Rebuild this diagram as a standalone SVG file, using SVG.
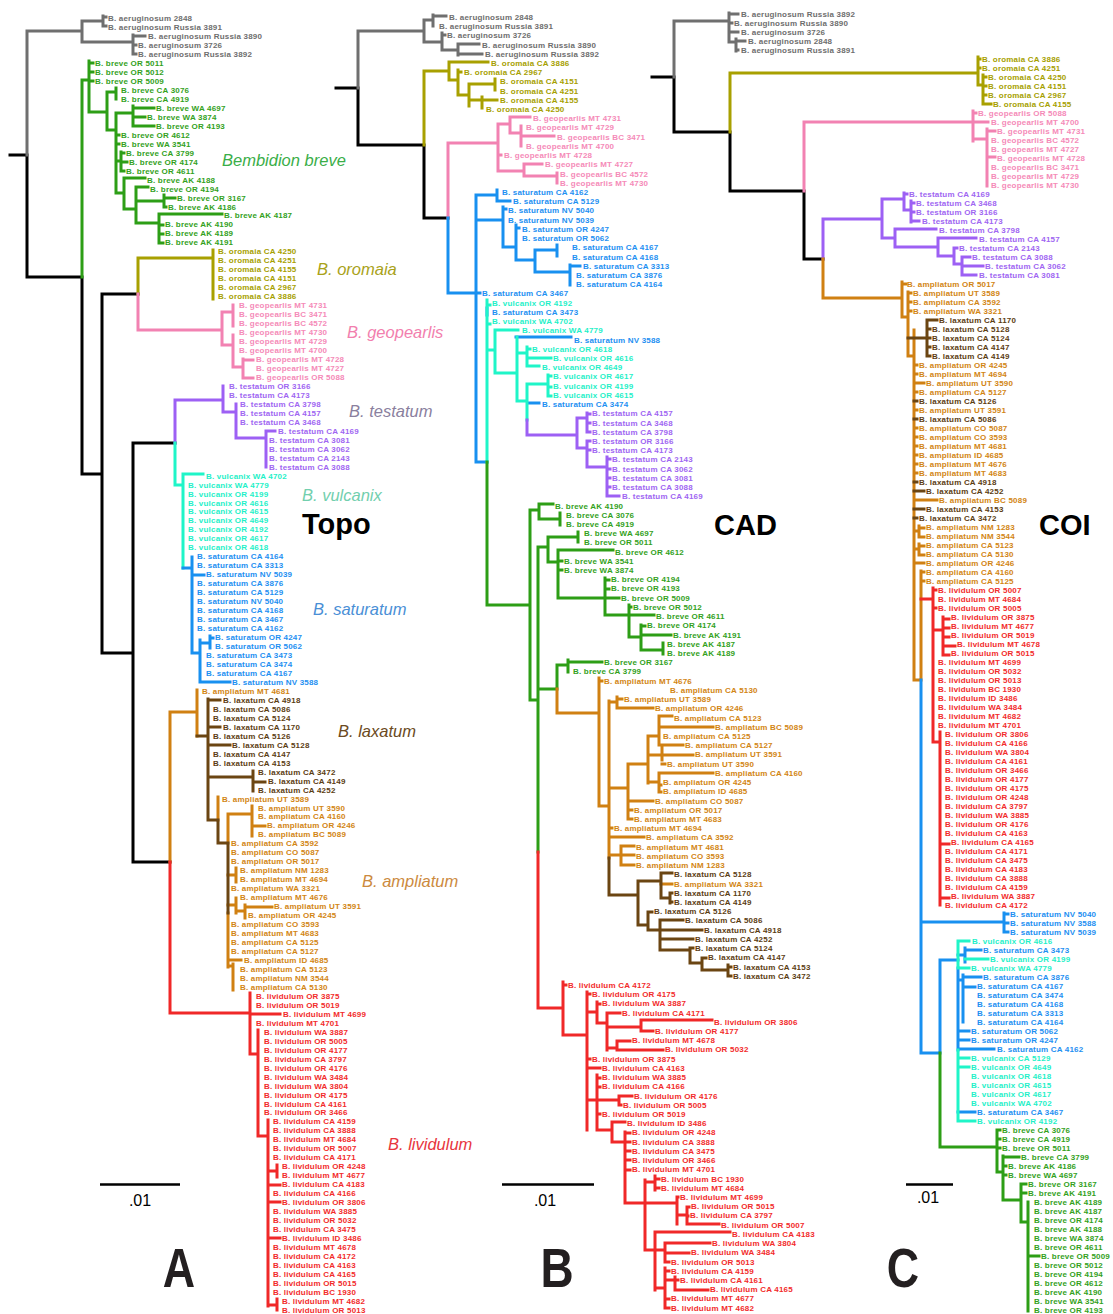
<svg xmlns="http://www.w3.org/2000/svg" width="1113" height="1314" viewBox="0 0 1113 1314">
<style>
.t{font-family:"Liberation Sans",Arial,sans-serif;font-weight:700;font-size:8px;letter-spacing:.2px}
.gy{fill:#6e6e6e}.gr{fill:#33a11c}.ol{fill:#a6a000}.pk{fill:#f58ab8}.pu{fill:#a066f2}.cy{fill:#1ff0c8}.bl{fill:#1d8ff2}.bn{fill:#5c3d12}.or{fill:#d28512}.rd{fill:#f22b2b}
.e{fill:none;stroke-width:3;stroke-linecap:square;stroke-linejoin:miter}
.k{stroke:#000}.sgy{stroke:#6f6f6f}.sgr{stroke:#2d9e16}.sol{stroke:#a8a000}.spk{stroke:#f282b2}.spu{stroke:#9d60f4}.scy{stroke:#1ff5c8}.sbl{stroke:#1890f0}.sbn{stroke:#6b4512}.sor{stroke:#d08012}.srd{stroke:#f02828}
.c{font-family:"Liberation Sans",Arial,sans-serif;font-style:italic;font-size:16.5px}
.p{font-family:"Liberation Sans",Arial,sans-serif;font-weight:700;font-size:29px;fill:#000}
.L{font-family:"Liberation Sans",Arial,sans-serif;font-weight:700;font-size:56px;fill:#231f20;text-anchor:middle}
.s{font-family:"Liberation Sans",Arial,sans-serif;font-size:16px;fill:#000;text-anchor:middle}
</style>
<rect width="1113" height="1314" fill="#fff"/>

<!-- branch lines -->
<g id="connectors" class="e">
  <g id="tree-topo">
    <path class="k" d="M10 155H27V277H82V474H102M102 294H138M102 294V653H133M133 443V862M133 443H175M133 862H170"/>
    <path class="sgy" d="M27 155V31H82M82 21V42M82 21H103M103 16V26M103 17H106M103 26H106M82 42H133M133 35V54M133 36H145M133 45H136M133 54H136"/>
    <path class="sgr" d="M82 277V80H89M89 61V112H107M89 63H93M89 72H93M89 81H93M107 92V130M107 92H116M116 88V99M107 130H116M116 113V193M116 113H133M133 106V126M133 108H154M133 117H145M133 126H154M116 135H119M116 144H119M116 161H121M121 152V171M121 153H124M121 162H127M121 171H124M116 193H124M124 178V209M124 178H145M124 209H136M136 187V223M136 187H148M136 201H164M164 195V207M164 198H175M164 207H166M136 223H159M159 214V243M159 214H222M159 225H163M159 234H163M159 243H163"/>
    <path class="sol" d="M138 294V258H213M213 250V299"/>
    <path class="spk" d="M138 294V330H222M222 312V345M222 312H233M233 305V326M222 345H233M233 335V367M233 367H243M243 359V378M243 360H253M243 378H253"/>
    <path class="spu" d="M175 443V400H223M223 386V412H236M236 404V438H266M266 431V467M266 431H275"/>
    <path class="scy" d="M175 443V485H183M183 474V568M183 474H203"/>
    <path class="sbl" d="M183 568H192M192 557V653H200M192 575H204M200 640V682H230M200 643H210M210 636V648M210 638H213"/>
    <path class="sor" d="M170 862V712H197M197 690V736M218 797V820M228 814V843M228 913V967M228 814H252M252 806V836M252 826H265M228 875H236M236 868V882M228 905H236M236 898V913M236 911H245M245 905V918M245 907H272M228 960H241M228 966H233M233 964V990"/>
    <path class="sbn" d="M197 736H208M208 699V820M208 700H220M208 727H220M208 745H230M208 777H253M253 771V791M253 782H265M208 820H218M218 820V843M218 843H228M228 843V913"/>
    <path class="srd" d="M170 862V1013H250M250 993V1054M250 1014H280M250 1054H258M258 1030V1136H268M268 1120V1306M268 1171H277M277 1165V1177M268 1185H280M268 1202H280M268 1238H280M268 1305H277M277 1299V1310"/>
  </g>
  <g id="tree-cad">
    <path class="k" d="M336 88H358V145H424V218H448"/>
    <path class="sgy" d="M358 88V31H424M424 20V42M424 20H433M433 15V26M433 16H446M424 42H442M442 33V50M442 35H445M442 50H458M458 44V55M458 44H479M458 54H482"/>
    <path class="sol" d="M424 145V71H449M449 62V80M449 62H488M449 80H458M458 70V95M458 72H461M458 95H469M469 84V106M469 84H495M495 79V90M469 100H482M482 97V108M482 100H497"/>
    <path class="spk" d="M448 218V143H498M498 124V171M498 124H510M510 117V133M510 117H530M510 133H521M521 126V146M521 136H554M498 155H501M498 171H524M524 164V176M524 164H542M524 176H557M557 173V183"/>
    <path class="sbl" d="M448 218V293H476M476 195V462H487M476 195H497M497 190V201M497 201H510M476 220H503M503 207V247M503 209H506M503 247H516M516 225V260M516 228H519M516 260H535M535 250V272M535 250H557M557 245V256M535 272H570M570 265V285M570 266H580M476 293H480M487 308V315M516 337H571M528 403H539"/>
    <path class="scy" d="M487 462V300M487 305H490M487 324H490M487 350H495M495 330V373M495 330H518M495 373H517M517 337V401H527M517 353H527M527 347V366M527 349H530M527 358H551M527 366H539M527 384V420M527 384H548M548 375V396M548 376H551M548 387H551M548 396H551"/>
    <path class="spu" d="M527 420V435H577M577 418V448M577 418H587M587 413V432M587 414H590M587 423H590M587 432H590M577 448H587M587 441V467H607M587 441H590M587 450H590M607 457V496H619M607 459H610M607 469H610M607 478H610M607 487H610"/>
    <path class="sgr" d="M487 462V605H530M530 510V700H538M530 510H539M539 504V519M539 504H553M539 519H560M560 513V525M538 547V852M538 547H548M548 537V562M548 537H578M578 532V542M548 562H558M558 550V598M558 550H613M558 561H562M558 570H562M558 598H605M605 578V615M605 580H609M605 589H609M605 598H619M605 615H629M629 605V637M629 607H631M629 615H654M629 637H641M641 625V650M641 626H645M641 635H671M641 650H663M663 643V654M538 689H557M557 665V689M557 665H568M568 660V672M568 662H602"/>
    <path class="sor" d="M557 689V713H599M599 678V806M599 681H602M599 806H609M609 701V858M609 702H617M617 697V708M617 699H622M617 708H653M609 788H628M628 764V819M628 764H648M648 736V783M648 736H659M659 716V745M659 716H672M659 727H713M659 745H683M648 755H662M662 748V760M662 755H693M662 764H665M648 782H659M659 773V792M659 773H713M659 785H661M659 792H661M628 801H653M628 810H632M628 819H632M609 828H612M609 837H644M609 855H621M621 846V865M621 846H634M621 855H634M621 865H634M661 884H672"/>
    <path class="sbn" d="M609 858V895H638M638 881V925M638 881H661M661 873V898M661 873H672M661 898H670M670 893V903M670 893H672M670 902H672M638 925H648M648 912V930M648 912H652M648 930H660M660 920V950M660 920H683M660 930H702M660 939H693M660 950H690M690 948V963M690 948H693M690 963H702M702 958V970M702 958H706M702 970H728M728 965V976M728 967H731M728 976H731"/>
    <path class="srd" d="M538 852V1008H563M563 982V1035H587M563 985H566M587 992V1130M587 994H590M587 1012H597M597 1002V1023H607M597 1004H600M607 1013V1050M607 1013H620M607 1027H641M641 1020V1031M641 1020H712M641 1031H653M607 1048H617M617 1041V1050M617 1041H630M617 1050H663M587 1059H590M587 1068H600M587 1100H597M597 1075V1130M597 1078H600M597 1087H600M597 1100H619M619 1096V1105M619 1096H632M619 1105H621M597 1114H600M597 1130H612M612 1122V1142M612 1122H625M612 1142H625M625 1132V1203M625 1133H630M625 1142H630M625 1151H630M625 1160H630M625 1170H630M625 1203H645M645 1180V1250M645 1182H655M655 1176V1190M655 1179H659M655 1188H659M645 1203H677M677 1197V1224M677 1197H678M677 1215H687M687 1207V1224M687 1207H689M687 1216H688M687 1224H719M645 1250H655M655 1232V1290M655 1232H730M655 1250H665M665 1243V1262M665 1243H710M665 1253H689M665 1262H669M655 1288H665M665 1268V1308M665 1271H669M665 1280H675M675 1277V1290M675 1280H678M675 1290H708M665 1299H669M665 1308H669"/>
  </g>
  <g id="tree-coi">
    <path class="k" d="M652 77H674V132H730V191H804V259H823"/>
    <path class="sgy" d="M674 77V21H729M729 13V42M729 14H738M729 23H732M729 32H738M729 42H736M736 39V51M736 41H745M736 50H738"/>
    <path class="sol" d="M730 132V73H978M978 57V85M978 59H980M978 68H980M978 85H983M983 75V104M983 77H986M983 86H986M983 95H986M983 104H991"/>
    <path class="spk" d="M804 191V122H973M973 111V141M973 113H976M973 122H988M973 139H987M987 129V186M987 131H995M987 157H995"/>
    <path class="spu" d="M823 259V219H882M882 199V238M882 199H904M904 193V210M904 194H907M904 210H911M911 201V222M911 203H914M911 212H914M911 221H919M882 238H895M895 229V247M895 229H936M895 247H938M938 238V256M938 238H976M938 256H954M954 248V264M954 248H957M954 264H962M962 257V275M962 257H970M962 266H983M962 275H976"/>
    <path class="sor" d="M823 259V298H902M902 282V317M902 284H906M902 317H908M908 292V356M908 293H911M908 302H911M908 311H911M908 356H914M914 330V680H921M914 365H917M914 374H917M914 383H924M914 392H917M914 410H917M914 428H917M914 437H917M914 446H917M914 455H917M914 464H917M914 473H917M914 500H937M914 531H919M919 526V537M919 528H924M919 537H924M914 549H919M919 544V555M919 546H924M919 555H924M914 563H924M921 571V680M921 572H924M921 581H924"/>
    <path class="sbn" d="M908 338H927M927 320V356M927 320H937M927 329H930M927 338H930M927 347H930M927 356H930M914 401H917M914 419H917M914 482H917M914 491H924M914 509H924M914 518H917"/>
    <path class="srd" d="M921 599H933M933 588V742M933 590H936M933 608H936M933 630H943M943 617V653M943 619H949M943 628H949M943 637H949M943 646H955M943 655H949M933 742H940M940 732V905M940 844H949M940 898H949"/>
    <path class="sbl" d="M921 680V1053H940M921 922H1004M1004 913V932M1004 914H1008M1004 923H1008M1004 932H1008M940 960V1053M940 960H958M958 968V1050M958 955H965M965 948V962M965 950H981M958 980H963M963 975V1022M963 977H981M963 987H975M958 1031H969M958 1040H969M958 1049H994M958 1112H975"/>
    <path class="scy" d="M958 941V968M958 941H969M965 959H988M958 968H969M958 1050V1121M958 1058H969M958 1067H969M958 1121H975"/>
    <path class="sgr" d="M940 1053V1147H997M997 1130V1172M997 1130H1000M997 1139H1000M997 1148H1000M997 1172H1003M1003 1156V1200M1003 1157H1019M1003 1166H1006M1003 1175H1006M1003 1200H1021M1021 1184V1222M1021 1184H1026M1021 1193H1026M1021 1222H1028M1028 1202V1311M1028 1256H1039"/>
  </g>
</g>

<!-- Topo tree: tip labels -->
<g id="topo-aeruginosum" class="t gy" xml:space="preserve">
<text x="108" y="21.1">B. aeruginosum 2848</text><text x="108" y="30.1">B. aeruginosum Russia 3891</text><text x="148" y="39">B. aeruginosum Russia 3890</text><text x="138" y="48">B. aeruginosum 3726</text><text x="138" y="57">B. aeruginosum Russia 3892</text>
</g>
<g id="topo-breve" class="t gr" xml:space="preserve">
<text x="95" y="65.9">B. breve OR 5011</text><text x="95" y="74.9">B. breve OR 5012</text><text x="95" y="83.9">B. breve OR 5009</text><text x="121" y="92.9">B. breve CA 3076</text><text x="121" y="101.8">B. breve CA 4919</text><text x="156" y="110.8">B. breve WA 4697</text><text x="147" y="119.8">B. breve  WA 3874</text><text x="156" y="128.7">B. breve  OR 4193</text><text x="121" y="137.7">B. breve OR 4612</text><text x="121" y="146.7">B. breve WA 3541</text><text x="126" y="155.6">B. breve CA 3799</text><text x="129" y="164.6">B. breve  OR 4174</text><text x="126" y="173.6">B. breve OR 4611</text><text x="147" y="182.6">B. breve AK 4188</text><text x="150" y="191.5">B. breve  OR 4194</text><text x="177" y="200.5">B. breve OR 3167</text><text x="168" y="209.5">B. breve AK 4186</text><text x="224" y="218.4">B. breve AK 4187</text><text x="165" y="227.4">B. breve AK 4190</text><text x="165" y="236.4">B. breve AK 4189</text><text x="165" y="245.3">B. breve AK 4191</text>
</g>
<g id="topo-oromaia" class="t ol" xml:space="preserve">
<text x="218" y="254.3">B. oromaia CA 4250</text><text x="218" y="263.3">B. oromaia CA 4251</text><text x="218" y="272.3">B. oromaia CA 4155</text><text x="218" y="281.2">B. oromaia CA 4151</text><text x="218" y="290.2">B. oromaia CA 2967</text><text x="218" y="299.2">B. oromaia CA 3886</text>
</g>
<g id="topo-geopearlis" class="t pk" xml:space="preserve">
<text x="239" y="308.1">B. geopearlis MT 4731</text><text x="239" y="317.1">B. geopearlis BC 3471</text><text x="239" y="326.1">B. geopearlis BC 4572</text><text x="239" y="335">B. geopearlis MT 4730</text><text x="239" y="344">B. geopearlis MT 4729</text><text x="239" y="353">B. geopearlis MT 4700</text><text x="256" y="362">B. geopearlis MT 4728</text><text x="256" y="370.9">B. geopearlis MT 4727</text><text x="256" y="379.9">B. geopearlis OR 5088</text>
</g>
<g id="topo-testatum" class="t pu" xml:space="preserve">
<text x="229" y="388.9">B. testatum OR 3166</text><text x="229" y="397.8">B. testatum CA 4173</text><text x="240" y="406.8">B. testatum CA 3798</text><text x="240" y="415.8">B. testatum CA 4157</text><text x="240" y="424.7">B. testatum CA 3468</text><text x="278" y="433.7">B. testatum CA 4169</text><text x="269" y="442.7">B. testatum CA 3081</text><text x="269" y="451.7">B. testatum CA 3062</text><text x="269" y="460.6">B. testatum CA 2143</text><text x="269" y="469.6">B. testatum CA 3088</text>
</g>
<g id="topo-vulcanix" class="t cy" xml:space="preserve">
<text x="206" y="478.6">B. vulcanix  WA 4702</text><text x="188" y="487.5">B. vulcanix  WA 4779</text><text x="188" y="496.5">B. vulcanix  OR 4199</text><text x="188" y="505.5">B. vulcanix  OR 4616</text><text x="188" y="514.4">B. vulcanix  OR 4615</text><text x="188" y="523.4">B. vulcanix  OR 4649</text><text x="188" y="532.4">B. vulcanix  OR 4192</text><text x="188" y="541.4">B. vulcanix  OR 4617</text><text x="188" y="550.3">B. vulcanix  OR 4618</text>
</g>
<g id="topo-saturatum" class="t bl" xml:space="preserve">
<text x="197" y="559.3">B. saturatum CA 4164</text><text x="197" y="568.3">B. saturatum CA 3313</text><text x="206" y="577.2">B. saturatum  NV 5039</text><text x="197" y="586.2">B. saturatum CA 3876</text><text x="197" y="595.2">B. saturatum CA 5129</text><text x="197" y="604.1">B. saturatum  NV 5040</text><text x="197" y="613.1">B. saturatum CA 4168</text><text x="197" y="622.1">B. saturatum CA 3467</text><text x="197" y="631.1">B. saturatum CA 4162</text><text x="215" y="640">B. saturatum  OR 4247</text><text x="215" y="649">B. saturatum  OR 5062</text><text x="206" y="658">B. saturatum CA 3473</text><text x="206" y="666.9">B. saturatum CA 3474</text><text x="206" y="675.9">B. saturatum CA 4167</text><text x="232" y="684.9">B. saturatum  NV 3588</text>
</g>
<g id="topo-laxatum" class="t bn" xml:space="preserve">
<text x="223" y="702.8">B. laxatum CA 4918</text><text x="213" y="711.8">B. laxatum CA 5086</text><text x="213" y="720.8">B. laxatum CA 5124</text><text x="223" y="729.7">B. laxatum CA 1170</text><text x="213" y="738.7">B. laxatum CA 5126</text><text x="232" y="747.7">B. laxatum CA 5128</text><text x="213" y="756.6">B. laxatum CA 4147</text><text x="213" y="765.6">B. laxatum CA 4153</text><text x="258" y="774.6">B. laxatum CA 3472</text><text x="268" y="783.5">B. laxatum CA 4149</text><text x="258" y="792.5">B. laxatum CA 4252</text>
</g>
<g id="topo-ampliatum" class="t or" xml:space="preserve">
<text x="202" y="693.8">B. ampliatum MT 4681</text><text x="222" y="801.5">B. ampliatum UT 3589</text><text x="258" y="810.5">B. ampliatum UT 3590</text><text x="258" y="819.4">B. ampliatum CA 4160</text><text x="267" y="828.4">B. ampliatum OR 4246</text><text x="258" y="837.4">B. ampliatum BC 5089</text><text x="231" y="846.3">B. ampliatum CA 3592</text><text x="231" y="855.3">B. ampliatum CO 5087</text><text x="231" y="864.3">B. ampliatum OR 5017</text><text x="240" y="873.2">B. ampliatum NM 1283</text><text x="240" y="882.2">B. ampliatum MT 4694</text><text x="231" y="891.2">B. ampliatum WA 3321</text><text x="240" y="900.2">B. ampliatum MT 4676</text><text x="274" y="909.1">B. ampliatum UT 3591</text><text x="248" y="918.1">B. ampliatum OR 4245</text><text x="231" y="927.1">B. ampliatum CO 3593</text><text x="231" y="936">B. ampliatum MT 4683</text><text x="231" y="945">B. ampliatum CA 5125</text><text x="231" y="954">B. ampliatum CA 5127</text><text x="244" y="962.9">B. ampliatum ID 4685</text><text x="240" y="971.9">B. ampliatum CA 5123</text><text x="240" y="980.9">B. ampliatum NM 3544</text><text x="240" y="989.9">B. ampliatum CA 5130</text>
</g>
<g id="topo-lividulum" class="t rd" xml:space="preserve">
<text x="256" y="998.8">B. lividulum OR 3875</text><text x="256" y="1007.8">B. lividulum OR 5019</text><text x="283" y="1016.8">B. lividulum MT 4699</text><text x="256" y="1025.7">B. lividulum MT 4701</text><text x="264" y="1034.7">B. lividulum WA 3887</text><text x="264" y="1043.7">B. lividulum OR 5005</text><text x="264" y="1052.6">B. lividulum OR 4177</text><text x="264" y="1061.6">B. lividulum CA 3797</text><text x="264" y="1070.6">B. lividulum OR 4176</text><text x="264" y="1079.6">B. lividulum WA 3484</text><text x="264" y="1088.5">B. lividulum WA 3804</text><text x="264" y="1097.5">B. lividulum OR 4175</text><text x="264" y="1106.5">B. lividulum CA 4161</text><text x="264" y="1115.4">B. lividulum OR 3466</text><text x="273" y="1124.4">B. lividulum CA 4159</text><text x="273" y="1133.4">B. lividulum CA 3888</text><text x="273" y="1142.3">B. lividulum MT 4684</text><text x="273" y="1151.3">B. lividulum OR 5007</text><text x="273" y="1160.3">B. lividulum CA 4171</text><text x="282" y="1169.3">B. lividulum OR 4248</text><text x="282" y="1178.2">B. lividulum MT 4677</text><text x="282" y="1187.2">B. lividulum CA 4183</text><text x="273" y="1196.2">B. lividulum CA 4166</text><text x="282" y="1205.1">B. lividulum OR 3806</text><text x="273" y="1214.1">B. lividulum WA 3885</text><text x="273" y="1223.1">B. lividulum OR 5032</text><text x="273" y="1232">B. lividulum CA 3475</text><text x="282" y="1241">B. lividulum ID 3486</text><text x="273" y="1250">B. lividulum MT 4678</text><text x="273" y="1259">B. lividulum CA 4172</text><text x="273" y="1267.9">B. lividulum CA 4163</text><text x="273" y="1276.9">B. lividulum CA 4165</text><text x="273" y="1285.9">B. lividulum OR 5015</text><text x="273" y="1294.8">B. lividulum BC 1930</text><text x="282" y="1303.8">B. lividulum MT 4682</text><text x="282" y="1312.8">B. lividulum OR 5013</text>
</g>

<!-- CAD tree: tip labels -->
<g id="cad-aeruginosum" class="t gy" xml:space="preserve">
<text x="449" y="19.8">B. aeruginosum 2848</text><text x="439" y="29">B. aeruginosum Russia 3891</text><text x="447" y="38.2">B. aeruginosum 3726</text><text x="482" y="47.5">B. aeruginosum Russia 3890</text><text x="485" y="56.7">B. aeruginosum Russia 3892</text>
</g>
<g id="cad-oromaia" class="t ol" xml:space="preserve">
<text x="491" y="65.9">B. oromaia CA 3886</text><text x="464" y="75.1">B. oromaia CA 2967</text><text x="500" y="84.3">B. oromaia CA 4151</text><text x="500" y="93.6">B. oromaia CA 4251</text><text x="500" y="102.8">B. oromaia CA 4155</text><text x="486" y="112">B. oromaia CA 4250</text>
</g>
<g id="cad-geopearlis" class="t pk" xml:space="preserve">
<text x="533" y="121.2">B. geopearlis MT 4731</text><text x="526" y="130.4">B. geopearlis MT 4729</text><text x="557" y="139.7">B. geopearlis BC 3471</text><text x="526" y="148.9">B. geopearlis MT 4700</text><text x="504" y="158.1">B. geopearlis MT 4728</text><text x="545" y="167.3">B. geopearlis MT 4727</text><text x="560" y="176.5">B. geopearlis BC 4572</text><text x="560" y="185.8">B. geopearlis MT 4730</text>
</g>
<g id="cad-saturatum-vulcanix" class="t bl" xml:space="preserve">
<text x="502" y="195">B. saturatum CA 4162</text><text x="513" y="204.2">B. saturatum CA 5129</text><text x="508" y="213.4">B. saturatum  NV 5040</text><text x="508" y="222.6">B. saturatum  NV 5039</text><text x="522" y="231.9">B. saturatum  OR 4247</text><text x="522" y="241.1">B. saturatum  OR 5062</text><text x="572" y="250.3">B. saturatum CA 4167</text><text x="572" y="259.5">B. saturatum CA 4168</text><text x="583" y="268.7">B. saturatum CA 3313</text><text x="576" y="278">B. saturatum CA 3876</text><text x="576" y="287.2">B. saturatum CA 4164</text><text x="482" y="296.4">B. saturatum CA 3467</text><text class="cy" x="492" y="305.6">B. vulcanix  OR 4192</text><text x="492" y="314.8">B. saturatum CA 3473</text><text class="cy" x="492" y="324.1">B. vulcanix  WA 4702</text><text class="cy" x="522" y="333.3">B. vulcanix  WA 4779</text><text x="574" y="342.5">B. saturatum  NV 3588</text><text class="cy" x="532" y="351.7">B. vulcanix  OR 4618</text><text class="cy" x="553" y="360.9">B. vulcanix  OR 4616</text><text class="cy" x="542" y="370.2">B. vulcanix  OR 4649</text><text class="cy" x="553" y="379.4">B. vulcanix  OR 4617</text><text class="cy" x="553" y="388.6">B. vulcanix  OR 4199</text><text class="cy" x="553" y="397.8">B. vulcanix  OR 4615</text><text x="542" y="407">B. saturatum CA 3474</text>
</g>
<g id="cad-testatum" class="t pu" xml:space="preserve">
<text x="592" y="416.3">B. testatum CA 4157</text><text x="592" y="425.5">B. testatum CA 3468</text><text x="592" y="434.7">B. testatum CA 3798</text><text x="592" y="443.9">B. testatum OR 3166</text><text x="592" y="453.1">B. testatum CA 4173</text><text x="612" y="462.4">B. testatum CA 2143</text><text x="612" y="471.6">B. testatum CA 3062</text><text x="612" y="480.8">B. testatum CA 3081</text><text x="612" y="490">B. testatum CA 3088</text><text x="622" y="499.2">B. testatum CA 4169</text>
</g>
<g id="cad-breve" class="t gr" xml:space="preserve">
<text x="555" y="508.5">B. breve AK 4190</text><text x="566" y="517.7">B. breve CA 3076</text><text x="566" y="526.9">B. breve CA 4919</text><text x="584" y="536.1">B. breve WA 4697</text><text x="584" y="545.3">B. breve OR 5011</text><text x="615" y="554.6">B. breve OR 4612</text><text x="564" y="563.8">B. breve WA 3541</text><text x="564" y="573">B. breve  WA 3874</text><text x="611" y="582.2">B. breve  OR 4194</text><text x="611" y="591.4">B. breve  OR 4193</text><text x="621" y="600.7">B. breve OR 5009</text><text x="633" y="609.9">B. breve OR 5012</text><text x="656" y="619.1">B. breve OR 4611</text><text x="647" y="628.3">B. breve  OR 4174</text><text x="673" y="637.5">B. breve AK 4191</text><text x="667" y="646.8">B. breve AK 4187</text><text x="667" y="656">B. breve AK 4189</text><text x="604" y="665.2">B. breve OR 3167</text><text x="573" y="674.4">B. breve CA 3799</text>
</g>
<g id="cad-ampliatum-laxatum" class="t or" xml:space="preserve">
<text x="604" y="683.6">B. ampliatum MT 4676</text><text x="670" y="692.9">B. ampliatum CA 5130</text><text x="624" y="702.1">B. ampliatum UT 3589</text><text x="655" y="711.3">B. ampliatum OR 4246</text><text x="674" y="720.5">B. ampliatum CA 5123</text><text x="715" y="729.7">B. ampliatum BC 5089</text><text x="663" y="739">B. ampliatum CA 5125</text><text x="685" y="748.2">B. ampliatum CA 5127</text><text x="695" y="757.4">B. ampliatum UT 3591</text><text x="667" y="766.6">B. ampliatum UT 3590</text><text x="715" y="775.8">B. ampliatum CA 4160</text><text x="663" y="785.1">B. ampliatum OR 4245</text><text x="663" y="794.3">B. ampliatum ID 4685</text><text x="655" y="803.5">B. ampliatum CO 5087</text><text x="634" y="812.7">B. ampliatum OR 5017</text><text x="634" y="821.9">B. ampliatum MT 4683</text><text x="614" y="831.2">B. ampliatum MT 4694</text><text x="646" y="840.4">B. ampliatum CA 3592</text><text x="636" y="849.6">B. ampliatum MT 4681</text><text x="636" y="858.8">B. ampliatum CO 3593</text><text x="636" y="868">B. ampliatum NM 1283</text><text class="bn" x="674" y="877.3">B. laxatum CA 5128</text><text x="674" y="886.5">B. ampliatum WA 3321</text><text class="bn" x="674" y="895.7">B. laxatum CA 1170</text><text class="bn" x="674" y="904.9">B. laxatum CA 4149</text><text class="bn" x="654" y="914.1">B. laxatum CA 5126</text><text class="bn" x="685" y="923.4">B. laxatum CA 5086</text><text class="bn" x="704" y="932.6">B. laxatum CA 4918</text><text class="bn" x="695" y="941.8">B. laxatum CA 4252</text><text class="bn" x="695" y="951">B. laxatum CA 5124</text><text class="bn" x="708" y="960.2">B. laxatum CA 4147</text><text class="bn" x="733" y="969.5">B. laxatum CA 4153</text><text class="bn" x="733" y="978.7">B. laxatum CA 3472</text>
</g>
<g id="cad-lividulum" class="t rd" xml:space="preserve">
<text x="568" y="987.9">B. lividulum CA 4172</text><text x="592" y="997.1">B. lividulum OR 4175</text><text x="602" y="1006.3">B. lividulum WA 3887</text><text x="622" y="1015.6">B. lividulum CA 4171</text><text x="714" y="1024.8">B. lividulum OR 3806</text><text x="655" y="1034">B. lividulum OR 4177</text><text x="632" y="1043.2">B. lividulum MT 4678</text><text x="665" y="1052.4">B. lividulum OR 5032</text><text x="592" y="1061.7">B. lividulum OR 3875</text><text x="602" y="1070.9">B. lividulum CA 4163</text><text x="602" y="1080.1">B. lividulum WA 3885</text><text x="602" y="1089.3">B. lividulum CA 4166</text><text x="634" y="1098.5">B. lividulum OR 4176</text><text x="623" y="1107.8">B. lividulum OR 5005</text><text x="602" y="1117">B. lividulum OR 5019</text><text x="627" y="1126.2">B. lividulum ID 3486</text><text x="632" y="1135.4">B. lividulum OR 4248</text><text x="632" y="1144.6">B. lividulum CA 3888</text><text x="632" y="1153.9">B. lividulum CA 3475</text><text x="632" y="1163.1">B. lividulum OR 3466</text><text x="632" y="1172.3">B. lividulum MT 4701</text><text x="661" y="1181.5">B. lividulum BC 1930</text><text x="661" y="1190.7">B. lividulum MT 4684</text><text x="680" y="1200">B. lividulum MT 4699</text><text x="691" y="1209.2">B. lividulum OR 5015</text><text x="690" y="1218.4">B. lividulum CA 3797</text><text x="721" y="1227.6">B. lividulum OR 5007</text><text x="732" y="1236.8">B. lividulum CA 4183</text><text x="712" y="1246.1">B. lividulum WA 3804</text><text x="691" y="1255.3">B. lividulum WA 3484</text><text x="671" y="1264.5">B. lividulum OR 5013</text><text x="671" y="1273.7">B. lividulum CA 4159</text><text x="680" y="1282.9">B. lividulum CA 4161</text><text x="710" y="1292.2">B. lividulum CA 4165</text><text x="671" y="1301.4">B. lividulum MT 4677</text><text x="671" y="1310.6">B. lividulum MT 4682</text>
</g>

<!-- COI tree: tip labels -->
<g id="coi-aeruginosum" class="t gy" xml:space="preserve">
<text x="741" y="16.8">B. aeruginosum Russia 3892</text><text x="734" y="25.8">B. aeruginosum Russia 3890</text><text x="741" y="34.8">B. aeruginosum 3726</text><text x="748" y="43.8">B. aeruginosum 2848</text><text x="741" y="52.8">B. aeruginosum Russia 3891</text>
</g>
<g id="coi-oromaia" class="t ol" xml:space="preserve">
<text x="982" y="61.8">B. oromaia CA 3886</text><text x="982" y="70.8">B. oromaia CA 4251</text><text x="988" y="79.8">B. oromaia CA 4250</text><text x="988" y="88.8">B. oromaia CA 4151</text><text x="988" y="97.8">B. oromaia CA 2967</text><text x="993" y="106.8">B. oromaia CA 4155</text>
</g>
<g id="coi-geopearlis" class="t pk" xml:space="preserve">
<text x="978" y="115.8">B. geopearlis OR 5088</text><text x="991" y="124.8">B. geopearlis MT 4700</text><text x="997" y="133.8">B. geopearlis MT 4731</text><text x="991" y="142.8">B. geopearlis BC 4572</text><text x="991" y="151.8">B. geopearlis MT 4727</text><text x="997" y="160.8">B. geopearlis MT 4728</text><text x="991" y="169.8">B. geopearlis BC 3471</text><text x="991" y="178.8">B. geopearlis MT 4729</text><text x="991" y="187.8">B. geopearlis MT 4730</text>
</g>
<g id="coi-testatum" class="t pu" xml:space="preserve">
<text x="909" y="196.8">B. testatum CA 4169</text><text x="916" y="205.8">B. testatum CA 3468</text><text x="916" y="214.8">B. testatum OR 3166</text><text x="922" y="223.8">B. testatum CA 4173</text><text x="939" y="232.8">B. testatum CA 3798</text><text x="979" y="241.8">B. testatum CA 4157</text><text x="959" y="250.8">B. testatum CA 2143</text><text x="972" y="259.8">B. testatum CA 3088</text><text x="985" y="268.8">B. testatum CA 3062</text><text x="979" y="277.8">B. testatum CA 3081</text>
</g>
<g id="coi-ampliatum-laxatum" class="t or" xml:space="preserve">
<text x="907" y="286.8">B. ampliatum OR 5017</text><text x="913" y="295.8">B. ampliatum UT 3589</text><text x="913" y="304.8">B. ampliatum CA 3592</text><text x="913" y="313.8">B. ampliatum WA 3321</text><text class="bn" x="939" y="322.8">B. laxatum CA 1170</text><text class="bn" x="932" y="331.8">B. laxatum CA 5128</text><text class="bn" x="932" y="340.8">B. laxatum CA 5124</text><text class="bn" x="932" y="349.8">B. laxatum CA 4147</text><text class="bn" x="932" y="358.8">B. laxatum CA 4149</text><text x="919" y="367.8">B. ampliatum OR 4245</text><text x="919" y="376.8">B. ampliatum MT 4694</text><text x="926" y="385.8">B. ampliatum UT 3590</text><text x="919" y="394.8">B. ampliatum CA 5127</text><text class="bn" x="919" y="403.8">B. laxatum CA 5126</text><text x="919" y="412.8">B. ampliatum UT 3591</text><text class="bn" x="919" y="421.8">B. laxatum CA 5086</text><text x="919" y="430.8">B. ampliatum CO 5087</text><text x="919" y="439.8">B. ampliatum CO 3593</text><text x="919" y="448.8">B. ampliatum MT 4681</text><text x="919" y="457.8">B. ampliatum ID 4685</text><text x="919" y="466.8">B. ampliatum MT 4676</text><text x="919" y="475.8">B. ampliatum MT 4683</text><text class="bn" x="919" y="484.8">B. laxatum CA 4918</text><text class="bn" x="926" y="493.8">B. laxatum CA 4252</text><text x="939" y="502.8">B. ampliatum BC 5089</text><text class="bn" x="926" y="511.8">B. laxatum CA 4153</text><text class="bn" x="919" y="520.8">B. laxatum CA 3472</text><text x="926" y="529.8">B. ampliatum NM 1283</text><text x="926" y="538.8">B. ampliatum NM 3544</text><text x="926" y="547.8">B. ampliatum CA 5123</text><text x="926" y="556.8">B. ampliatum CA 5130</text><text x="926" y="565.8">B. ampliatum OR 4246</text><text x="926" y="574.8">B. ampliatum CA 4160</text><text x="926" y="583.8">B. ampliatum CA 5125</text>
</g>
<g id="coi-lividulum" class="t rd" xml:space="preserve">
<text x="938" y="592.8">B. lividulum OR 5007</text><text x="938" y="601.8">B. lividulum MT 4684</text><text x="938" y="610.8">B. lividulum OR 5005</text><text x="951" y="619.8">B. lividulum OR 3875</text><text x="951" y="628.8">B. lividulum MT 4677</text><text x="951" y="637.8">B. lividulum OR 5019</text><text x="957" y="646.8">B. lividulum MT 4678</text><text x="951" y="655.8">B. lividulum OR 5015</text><text x="938" y="664.8">B. lividulum MT 4699</text><text x="938" y="673.8">B. lividulum OR 5032</text><text x="938" y="682.8">B. lividulum OR 5013</text><text x="938" y="691.8">B. lividulum BC 1930</text><text x="938" y="700.8">B. lividulum ID 3486</text><text x="938" y="709.8">B. lividulum WA 3484</text><text x="938" y="718.8">B. lividulum MT 4682</text><text x="938" y="727.8">B. lividulum MT 4701</text><text x="945" y="736.8">B. lividulum OR 3806</text><text x="945" y="745.8">B. lividulum CA 4166</text><text x="945" y="754.8">B. lividulum WA 3804</text><text x="945" y="763.8">B. lividulum CA 4161</text><text x="945" y="772.8">B. lividulum OR 3466</text><text x="945" y="781.8">B. lividulum OR 4177</text><text x="945" y="790.8">B. lividulum OR 4175</text><text x="945" y="799.8">B. lividulum OR 4248</text><text x="945" y="808.8">B. lividulum CA 3797</text><text x="945" y="817.8">B. lividulum WA 3885</text><text x="945" y="826.8">B. lividulum OR 4176</text><text x="945" y="835.8">B. lividulum CA 4163</text><text x="951" y="844.8">B. lividulum CA 4165</text><text x="945" y="853.8">B. lividulum CA 4171</text><text x="945" y="862.8">B. lividulum CA 3475</text><text x="945" y="871.8">B. lividulum CA 4183</text><text x="945" y="880.8">B. lividulum CA 3888</text><text x="945" y="889.8">B. lividulum CA 4159</text><text x="951" y="898.8">B. lividulum WA 3887</text><text x="945" y="907.8">B. lividulum CA 4172</text>
</g>
<g id="coi-saturatum-vulcanix" class="t bl" xml:space="preserve">
<text x="1010" y="916.8">B. saturatum  NV 5040</text><text x="1010" y="925.8">B. saturatum  NV 3588</text><text x="1010" y="934.8">B. saturatum  NV 5039</text><text class="cy" x="972" y="943.8">B. vulcanix  OR 4616</text><text x="983" y="952.8">B. saturatum CA 3473</text><text class="cy" x="990" y="961.8">B. vulcanix  OR 4199</text><text class="cy" x="971" y="970.8">B. vulcanix  WA 4779</text><text x="983" y="979.8">B. saturatum CA 3876</text><text x="977" y="988.8">B. saturatum CA 4167</text><text x="977" y="997.8">B. saturatum CA 3474</text><text x="977" y="1006.8">B. saturatum CA 4168</text><text x="977" y="1015.8">B. saturatum CA 3313</text><text x="977" y="1024.8">B. saturatum CA 4164</text><text x="971" y="1033.8">B. saturatum  OR 5062</text><text x="971" y="1042.8">B. saturatum  OR 4247</text><text x="997" y="1051.8">B. saturatum CA 4162</text><text class="cy" x="971" y="1060.8">B. vulcanix CA 5129</text><text class="cy" x="971" y="1069.8">B. vulcanix  OR 4649</text><text class="cy" x="971" y="1078.8">B. vulcanix  OR 4618</text><text class="cy" x="971" y="1087.8">B. vulcanix  OR 4615</text><text class="cy" x="971" y="1096.8">B. vulcanix  OR 4617</text><text class="cy" x="971" y="1105.8">B. vulcanix  WA 4702</text><text x="977" y="1114.8">B. saturatum CA 3467</text><text class="cy" x="977" y="1123.8">B. vulcanix  OR 4192</text>
</g>
<g id="coi-breve" class="t gr" xml:space="preserve">
<text x="1002" y="1132.8">B. breve CA 3076</text><text x="1002" y="1141.8">B. breve CA 4919</text><text x="1002" y="1150.8">B. breve OR 5011</text><text x="1021" y="1159.8">B. breve CA 3799</text><text x="1008" y="1168.8">B. breve AK 4186</text><text x="1008" y="1177.8">B. breve WA 4697</text><text x="1028" y="1186.8">B. breve OR 3167</text><text x="1028" y="1195.8">B. breve AK 4191</text><text x="1034" y="1204.8">B. breve AK 4189</text><text x="1034" y="1213.8">B. breve AK 4187</text><text x="1034" y="1222.8">B. breve  OR 4174</text><text x="1034" y="1231.8">B. breve AK 4188</text><text x="1034" y="1240.8">B. breve  WA 3874</text><text x="1034" y="1249.8">B. breve OR 4611</text><text x="1041" y="1258.8">B. breve OR 5009</text><text x="1034" y="1267.8">B. breve OR 5012</text><text x="1034" y="1276.8">B. breve  OR 4194</text><text x="1034" y="1285.8">B. breve OR 4612</text><text x="1034" y="1294.8">B. breve AK 4190</text><text x="1034" y="1303.8">B. breve WA 3541</text><text x="1034" y="1312.8">B. breve  OR 4193</text>
</g>

<!-- species names beside the Topo tree -->
<g id="clade-names" class="c">
  <text x="222" y="165.5" fill="#3aae48">Bembidion breve</text>
  <text x="317" y="275" fill="#a9a21a">B. oromaia</text>
  <text x="347" y="338" fill="#f27fae">B. geopearlis</text>
  <text x="349" y="417" fill="#8a7f9e">B. testatum</text>
  <text x="302" y="501" fill="#72cfae">B. vulcanix</text>
  <text x="313" y="615" fill="#4a8fd6">B. saturatum</text>
  <text x="338" y="737" fill="#6b4a22">B. laxatum</text>
  <text x="362" y="887" fill="#cc8a3e">B. ampliatum</text>
  <text x="388" y="1150" fill="#e8363e">B. lividulum</text>
</g>

<!-- panel titles, scale bars, panel letters -->
<g id="panel-titles">
  <text class="p" x="302" y="534">Topo</text>
  <text class="p" x="714" y="535">CAD</text>
  <text class="p" x="1039" y="535">COI</text>
</g>
<g id="scale-bars">
  <path d="M100 1184.5H180M502 1184.5H594M906 1184.5H953" stroke="#000" stroke-width="2.5" fill="none"/>
  <text class="s" x="140" y="1206">.01</text>
  <text class="s" x="545" y="1206">.01</text>
  <text class="s" x="928" y="1203">.01</text>
</g>
<g id="panel-letters">
  <text class="L" transform="translate(179 1287) scale(0.8 1)">A</text>
  <text class="L" transform="translate(557 1287) scale(0.82 1)">B</text>
  <text class="L" transform="translate(903 1287) scale(0.8 1)">C</text>
</g>
</svg>
